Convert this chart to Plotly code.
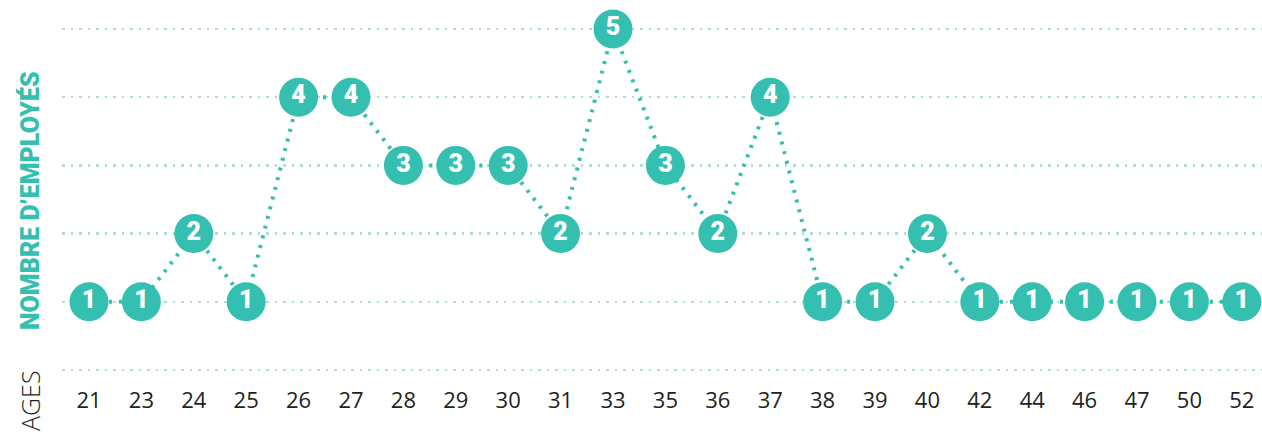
import plotly.graph_objects as go

ages = ["21", "23", "24", "25", "26", "27", "28", "29", "30", "31", "33", "35",
        "36", "37", "38", "39", "40", "42", "44", "46", "47", "50", "52"]
employees = [1, 1, 2, 1, 4, 4, 3, 3, 3, 2, 5, 3, 2, 4, 1, 1, 2, 1, 1, 1, 1, 1, 1]
y_ticks = [0, 1, 2, 3, 4, 5]

TEAL = "#35BFB0"
GRID = "#AEDFD5"

idx = list(range(len(ages)))

fig = go.Figure()
fig.add_trace(go.Scatter(
    x=idx, y=employees,
    mode="lines+markers+text",
    line=dict(color=TEAL, width=4, dash="3px,7px"),
    marker=dict(size=39, color=TEAL, line=dict(width=0)),
    text=[str(v) for v in employees],
    textposition="middle center",
    textfont=dict(family="Roboto", size=25, color="white", weight=900),
    hoverinfo="skip",
    cliponaxis=False,
))

fig.update_layout(
    width=1262, height=434,
    margin=dict(l=62, r=0, t=0, b=49),
    paper_bgcolor="white", plot_bgcolor="white",
    showlegend=False,
    xaxis=dict(
        range=[-0.515, 22.385], automargin=False,
        tickvals=idx, ticktext=ages,
        showgrid=False, zeroline=False, showline=False,
        ticks="", tickfont=dict(family="Open Sans", size=22, color="#231F20"),
    ),
    yaxis=dict(
        range=[-0.22, 5.425], automargin=False,
        tickvals=y_ticks, showticklabels=False,
        showgrid=True, gridcolor=GRID, gridwidth=2.5, griddash="2.5px,6px",
        zeroline=False, showline=False, ticks="",
    ),
    annotations=[
        dict(text="NOMBRE D’EMPLOYÉS", xref="paper", yref="paper",
             x=-0.0267, y=0.4805, textangle=-90, showarrow=False,
             xanchor="center", yanchor="middle",
             font=dict(family="Roboto", size=25, color=TEAL, weight=900)),
        dict(text="AGES", xref="paper", yref="paper",
             x=-0.0267, y=-0.039, textangle=-90, showarrow=False,
             xanchor="center", yanchor="middle",
             font=dict(family="Open Sans", size=25, color="#231F20", weight=300)),
    ],
)

fig.write_html(
    "out.html",
    config={"displayModeBar": False, "staticPlot": True},
    post_script="document.body.style.margin='0';document.body.style.overflow='hidden';",
)
